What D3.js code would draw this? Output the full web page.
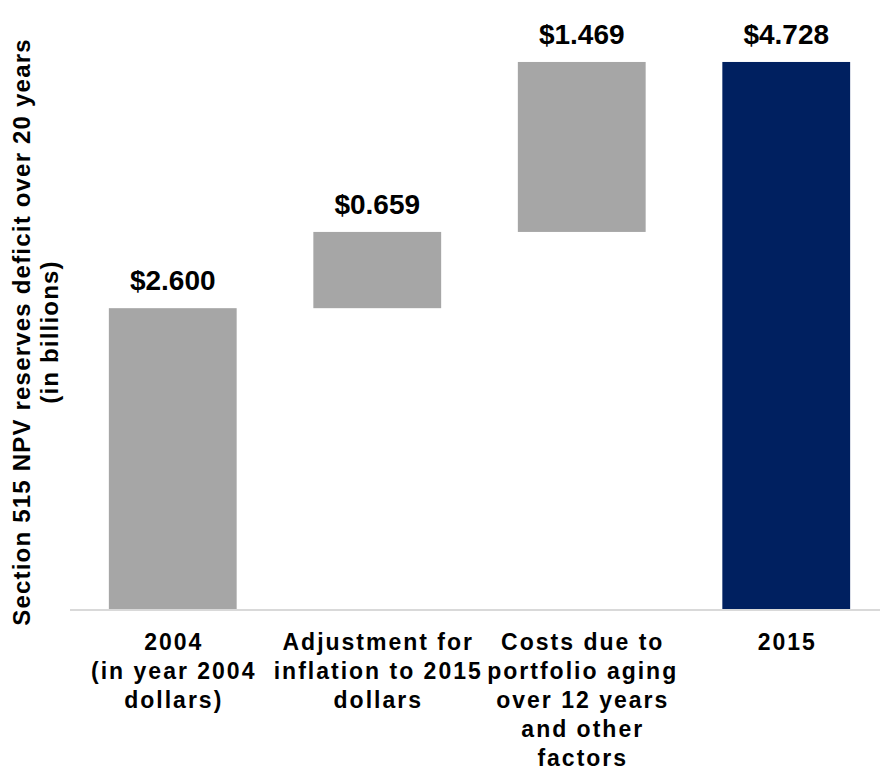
<!DOCTYPE html>
<html>
<head>
<meta charset="utf-8">
<script src="https://cdn.jsdelivr.net/npm/d3@7"></script>
<style>
  html, body { margin: 0; padding: 0; background: #fff; }
  svg { display: block; font-family: "Liberation Sans", Arial, sans-serif; }
</style>
</head>
<body>
<svg id="chart" width="880" height="773"></svg>
<script>
// Waterfall: 2004 deficit, two increments, 2015 deficit (billions of dollars)
const categories = [
  ["2004", "(in year 2004", "dollars)"],
  ["Adjustment for", "inflation to 2015", "dollars"],
  ["Costs due to", "portfolio aging", "over 12 years", "and other", "factors"],
  ["2015"]
];
const values = [2.600, 0.659, 1.469, 4.728];
const kinds = ["total", "delta", "delta", "total"];
const yTitle = ["Section 515 NPV reserves deficit over 20 years", "(in billions)"];

const svg = d3.select("#chart");

const x = d3.scaleBand()
  .domain(d3.range(values.length))
  .range([70, 889])
  .paddingInner(0.375)
  .paddingOuter(0.19);

const y = d3.scaleLinear().domain([0, 5]).range([609, 30.5]);

// running totals give each floating bar its start and end
let running = 0;
const bars = values.map((v, i) => {
  let start, end;
  if (kinds[i] === "total") { start = 0; end = v; running = v; }
  else { start = running; end = running + v; running = end; }
  return { i, v, start, end, kind: kinds[i] };
});

svg.append("g").selectAll("rect")
  .data(bars)
  .join("rect")
  .attr("x", d => x(d.i))
  .attr("width", x.bandwidth())
  .attr("y", d => y(d.end))
  .attr("height", d => y(d.start) - y(d.end))
  .attr("fill", d => d.i === bars.length - 1 ? "#002060" : "#a6a6a6");

// category axis line
svg.append("line")
  .attr("x1", 70).attr("x2", 880)
  .attr("y1", 610).attr("y2", 610)
  .attr("stroke", "#d9d9d9")
  .attr("stroke-width", 2);

// value labels above each bar
const fmt = d3.format("$.3f");
svg.append("g").selectAll("text")
  .data(bars)
  .join("text")
  .attr("x", d => x(d.i) + x.bandwidth() / 2)
  .attr("y", d => y(d.end) - 18)
  .attr("text-anchor", "middle")
  .attr("font-size", 28)
  .attr("font-weight", "bold")
  .attr("fill", "#000")
  .text(d => fmt(d.v));

// multi-line category labels
const catG = svg.append("g").selectAll("text")
  .data(categories)
  .join("text")
  .attr("text-anchor", "middle")
  .attr("font-size", 23)
  .attr("font-weight", "bold")
  .attr("letter-spacing", "2px")
  .attr("fill", "#000");
catG.selectAll("tspan")
  .data((lines, i) => lines.map(t => ({ t, i })))
  .join("tspan")
  .attr("x", d => x(d.i) + x.bandwidth() / 2 + 1)
  .attr("y", (d, j) => 650 + j * 29)
  .text(d => d.t);

// rotated y-axis title
const titleG = svg.append("g")
  .attr("transform", "translate(0,332) rotate(-90)");
titleG.selectAll("text")
  .data(yTitle)
  .join("text")
  .attr("x", 0)
  .attr("y", (d, j) => 30 + j * 28)
  .attr("text-anchor", "middle")
  .attr("font-size", 24)
  .attr("font-weight", "bold")
  .attr("letter-spacing", "1.2px")
  .attr("fill", "#000")
  .text(d => d);
</script>
</body>
</html>
